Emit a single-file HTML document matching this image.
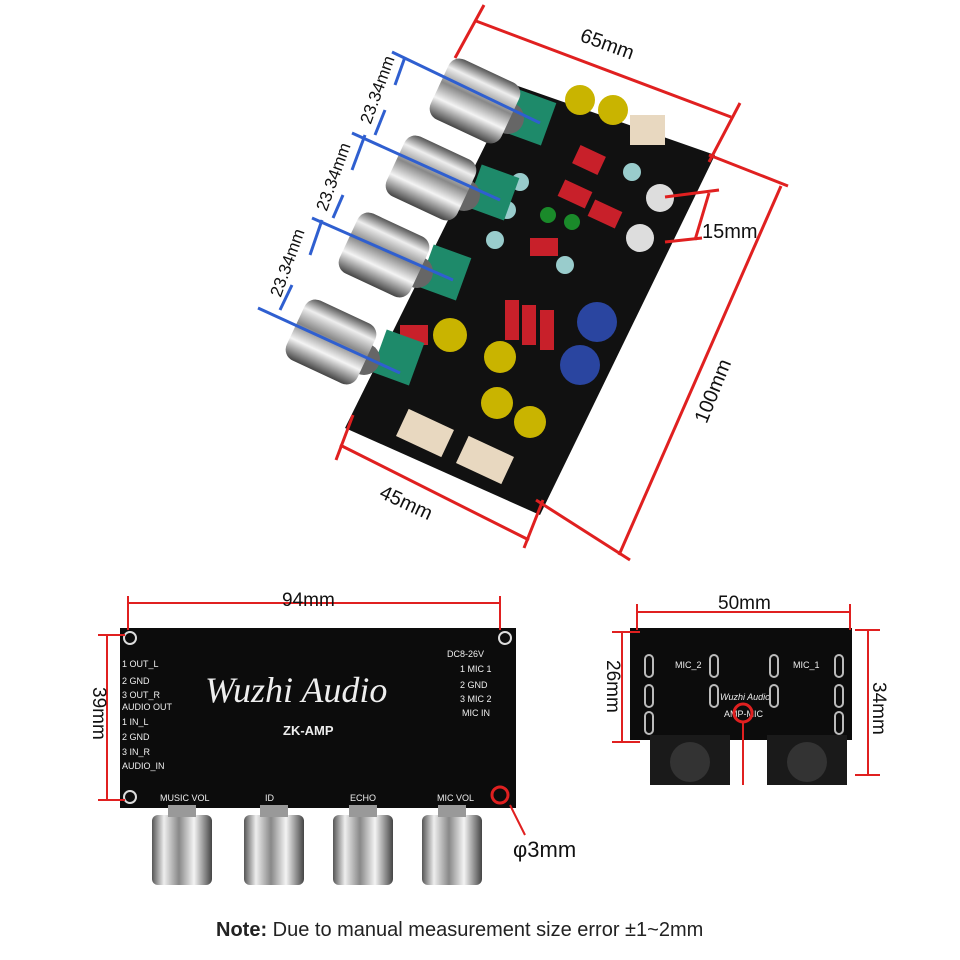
<!DOCTYPE html>
<html><head><meta charset="utf-8"><style>
body{margin:0;width:960px;height:960px;background:#fff;overflow:hidden;font-family:"Liberation Sans",sans-serif}
svg{position:absolute;left:0;top:0}
</style></head><body>
<svg width="960" height="960" viewBox="0 0 960 960" xmlns="http://www.w3.org/2000/svg">
<defs>
<linearGradient id="chrome" x1="0" x2="1" y1="0" y2="0">
<stop offset="0" stop-color="#555"/><stop offset="0.2" stop-color="#eee"/><stop offset="0.45" stop-color="#888"/><stop offset="0.7" stop-color="#f4f4f4"/><stop offset="1" stop-color="#444"/></linearGradient>
<linearGradient id="chromeV" x1="0" x2="0" y1="0" y2="1">
<stop offset="0" stop-color="#555"/><stop offset="0.2" stop-color="#eee"/><stop offset="0.45" stop-color="#888"/><stop offset="0.7" stop-color="#f4f4f4"/><stop offset="1" stop-color="#444"/></linearGradient>
</defs>
<!-- top board -->
<polygon points="515,85 715,155 540,515 345,428" fill="#111"/>
<g fill="#c8202a"><rect x="575" y="150" width="28" height="20" transform="rotate(25 589 160)"/><rect x="560" y="185" width="30" height="18" transform="rotate(25 575 194)"/><rect x="590" y="205" width="30" height="18" transform="rotate(25 605 214)"/><rect x="530" y="238" width="28" height="18"/><rect x="505" y="300" width="14" height="40"/><rect x="522" y="305" width="14" height="40"/><rect x="540" y="310" width="14" height="40"/><rect x="400" y="325" width="28" height="20"/></g>
<g fill="#c9b400"><circle cx="580" cy="100" r="15"/><circle cx="613" cy="110" r="15"/><circle cx="450" cy="335" r="17"/><circle cx="500" cy="357" r="16"/><circle cx="497" cy="403" r="16"/><circle cx="530" cy="422" r="16"/></g>
<g fill="#2a45a0"><circle cx="597" cy="322" r="20"/><circle cx="580" cy="365" r="20"/></g>
<g fill="#ddd"><circle cx="660" cy="198" r="14"/><circle cx="640" cy="238" r="14"/><circle cx="632" cy="172" r="9" fill="#9cc"/><circle cx="520" cy="182" r="9" fill="#9cc"/><circle cx="507" cy="210" r="9" fill="#9cc"/><circle cx="495" cy="240" r="9" fill="#9cc"/><circle cx="565" cy="265" r="9" fill="#9cc"/></g>
<g fill="#1a8a2a"><circle cx="548" cy="215" r="8"/><circle cx="572" cy="222" r="8"/></g>
<g fill="#e8d8c0"><rect x="400" y="418" width="50" height="30" transform="rotate(25 425 433)"/><rect x="460" y="445" width="50" height="30" transform="rotate(25 485 460)"/><rect x="630" y="115" width="35" height="30"/></g>
<!-- pots -->
<g fill="#1e8a6a"><rect x="510" y="95" width="40" height="45" transform="rotate(20 530 117)"/><rect x="473" y="170" width="40" height="45" transform="rotate(20 493 192)"/><rect x="425" y="250" width="40" height="45" transform="rotate(20 445 272)"/><rect x="378" y="335" width="40" height="45" transform="rotate(20 398 357)"/></g>
<g fill="#666"><circle cx="508" cy="118" r="16"/><circle cx="464" cy="195" r="16"/><circle cx="417" cy="272" r="16"/><circle cx="364" cy="359" r="16"/></g>
<g fill="url(#chromeV)"><rect x="436" y="68" width="78" height="66" rx="12" transform="rotate(25 475 101)"/><rect x="392" y="145" width="78" height="66" rx="12" transform="rotate(25 431 178)"/><rect x="345" y="222" width="78" height="66" rx="12" transform="rotate(25 384 255)"/><rect x="292" y="309" width="78" height="66" rx="12" transform="rotate(25 331 342)"/></g>
<!-- red dims top -->
<g stroke="#e02020" stroke-width="3" fill="none">
<line x1="476" y1="21" x2="731" y2="117"/><line x1="484" y1="5" x2="455" y2="58"/><line x1="740" y1="103" x2="709" y2="162"/>
<line x1="781" y1="186" x2="619" y2="555"/><line x1="709" y1="155" x2="788" y2="186"/><line x1="536" y1="500" x2="630" y2="560"/>
<line x1="340" y1="445" x2="529" y2="540"/><line x1="353" y1="415" x2="336" y2="460"/><line x1="543" y1="500" x2="524" y2="548"/>
<line x1="665" y1="197" x2="719" y2="190"/><line x1="665" y1="242" x2="702" y2="238"/><line x1="709" y1="193" x2="695" y2="240"/>
</g>
<g font-size="20" fill="#111">
<text x="577" y="52" transform="rotate(20 610 52)">65mm</text>
<text x="702" y="238">15mm</text>
<text x="680" y="395" transform="rotate(-68 715 390)">100mm</text>
<text x="378" y="512" transform="rotate(25 412 505)">45mm</text>
</g>
<!-- blue -->
<g stroke="#2f5fd0" stroke-width="3" fill="#2f5fd0">
<line x1="392" y1="52" x2="540" y2="123"/><line x1="352" y1="133" x2="500" y2="200"/><line x1="312" y1="218" x2="453" y2="280"/><line x1="258" y1="308" x2="400" y2="373"/>
<line x1="405" y1="57" x2="395" y2="85"/><line x1="385" y1="110" x2="375" y2="135"/><line x1="365" y1="135" x2="352" y2="170"/><line x1="343" y1="195" x2="333" y2="218"/><line x1="322" y1="220" x2="310" y2="255"/><line x1="292" y1="285" x2="280" y2="310"/>
</g>
<g font-size="17" fill="#111">
<text x="342" y="96" transform="rotate(-70 377 90)">23.34mm</text>
<text x="298" y="183" transform="rotate(-70 333 177)">23.34mm</text>
<text x="252" y="269" transform="rotate(-70 287 263)">23.34mm</text>
</g>
<!-- bottom left board -->
<rect x="120" y="628" width="396" height="180" fill="#0c0c0c"/>
<g fill="none" stroke="#ddd" stroke-width="2"><circle cx="130" cy="638" r="6"/><circle cx="505" cy="638" r="6"/><circle cx="130" cy="797" r="6"/><circle cx="500" cy="795" r="8" stroke="#e02020" stroke-width="3"/></g>
<text x="205" y="702" font-family="Liberation Serif,serif" font-style="italic" font-size="36" fill="#eee">Wuzhi Audio</text>
<text x="283" y="735" font-size="13" font-weight="bold" fill="#eee">ZK-AMP</text>
<g font-size="9" fill="#eee"><text x="122" y="667">1 OUT_L</text><text x="122" y="684">2 GND</text><text x="122" y="698">3 OUT_R</text><text x="122" y="710">AUDIO OUT</text><text x="122" y="725">1 IN_L</text><text x="122" y="740">2 GND</text><text x="122" y="755">3 IN_R</text><text x="122" y="769">AUDIO_IN</text>
<text x="460" y="672">1 MIC 1</text><text x="460" y="688">2 GND</text><text x="460" y="702">3 MIC 2</text><text x="462" y="716">MIC IN</text><text x="447" y="657">DC8-26V</text>
<text x="160" y="801">MUSIC VOL</text><text x="265" y="801">ID</text><text x="350" y="801">ECHO</text><text x="437" y="801">MIC VOL</text></g>
<g fill="url(#chrome)"><rect x="152" y="815" width="60" height="70" rx="6"/><rect x="244" y="815" width="60" height="70" rx="6"/><rect x="333" y="815" width="60" height="70" rx="6"/><rect x="422" y="815" width="60" height="70" rx="6"/></g>
<g fill="#999"><rect x="168" y="805" width="28" height="12"/><rect x="260" y="805" width="28" height="12"/><rect x="349" y="805" width="28" height="12"/><rect x="438" y="805" width="28" height="12"/></g>
<g stroke="#e02020" stroke-width="2" fill="none">
<line x1="128" y1="603" x2="500" y2="603"/><line x1="128" y1="596" x2="128" y2="630"/><line x1="500" y1="596" x2="500" y2="630"/>
<line x1="107" y1="635" x2="107" y2="800"/><line x1="98" y1="635" x2="125" y2="635"/><line x1="98" y1="800" x2="125" y2="800"/>
<line x1="510" y1="805" x2="525" y2="835"/>
</g>
<text x="282" y="606" font-size="19" fill="#111">94mm</text>
<text x="70" y="720" font-size="19" fill="#111" transform="rotate(90 98 715)">39mm</text>
<text x="513" y="857" font-size="22" fill="#111">φ3mm</text>
<!-- bottom right board -->
<rect x="630" y="628" width="222" height="112" fill="#0c0c0c"/>
<rect x="650" y="735" width="80" height="50" fill="#1a1a1a"/><rect x="767" y="735" width="80" height="50" fill="#1a1a1a"/>
<circle cx="690" cy="762" r="20" fill="#333"/><circle cx="807" cy="762" r="20" fill="#333"/>
<g font-size="9" fill="#eee"><text x="675" y="668">MIC_2</text><text x="793" y="668">MIC_1</text><text x="720" y="700" font-style="italic">Wuzhi Audio</text><text x="724" y="717">AMP-MIC</text></g>
<g fill="none" stroke="#bbb" stroke-width="2"><rect x="645" y="655" width="8" height="22" rx="4"/><rect x="645" y="685" width="8" height="22" rx="4"/><rect x="645" y="712" width="8" height="22" rx="4"/><rect x="710" y="655" width="8" height="22" rx="4"/><rect x="710" y="685" width="8" height="22" rx="4"/><rect x="770" y="655" width="8" height="22" rx="4"/><rect x="770" y="685" width="8" height="22" rx="4"/><rect x="835" y="655" width="8" height="22" rx="4"/><rect x="835" y="685" width="8" height="22" rx="4"/><rect x="835" y="712" width="8" height="22" rx="4"/></g>
<g stroke="#e02020" stroke-width="2" fill="none">
<line x1="637" y1="612" x2="850" y2="612"/><line x1="637" y1="604" x2="637" y2="630"/><line x1="850" y1="604" x2="850" y2="630"/>
<line x1="622" y1="632" x2="622" y2="742"/><line x1="612" y1="632" x2="640" y2="632"/><line x1="612" y1="742" x2="640" y2="742"/>
<line x1="868" y1="630" x2="868" y2="775"/><line x1="855" y1="630" x2="880" y2="630"/><line x1="855" y1="775" x2="880" y2="775"/>
<circle cx="743" cy="713" r="9" stroke-width="3"/><line x1="743" y1="722" x2="743" y2="785"/>
</g>
<text x="718" y="609" font-size="19" fill="#111">50mm</text>
<text x="585" y="692" font-size="19" fill="#111" transform="rotate(90 612 687)">26mm</text>
<text x="850" y="715" font-size="19" fill="#111" transform="rotate(90 878 710)">34mm</text>
<text x="216" y="936" font-size="20" fill="#222"><tspan font-weight="bold">Note:</tspan> Due to manual measurement size error ±1~2mm</text>
</svg>
</body></html>
